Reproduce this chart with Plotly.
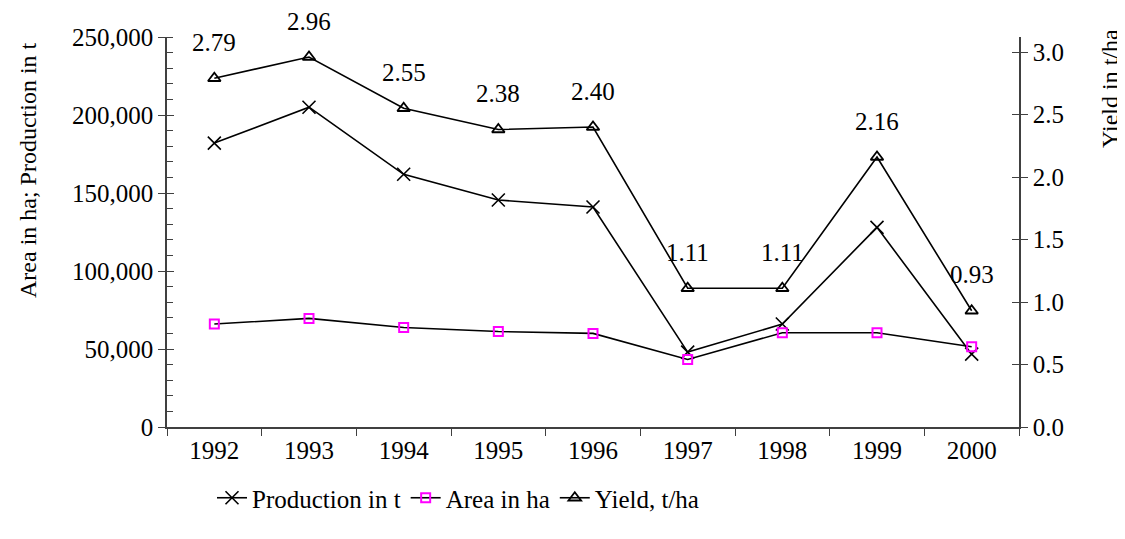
import plotly.graph_objects as go

years = ["1992", "1993", "1994", "1995", "1996", "1997", "1998", "1999", "2000"]
production_t = [182000, 205000, 162000, 145500, 141000, 48000, 66000, 128000, 46700]
area_ha = [66000, 69600, 63800, 61200, 60000, 43300, 60400, 60400, 51400]
yield_t_ha = [2.79, 2.96, 2.55, 2.38, 2.40, 1.11, 1.11, 2.16, 0.93]
yield_labels = ["2.79", "2.96", "2.55", "2.38", "2.40", "1.11", "1.11", "2.16", "0.93"]

FONT = "Liberation Serif"
AXC = "#404040"
YMAX2 = 3.12
FS = 25

# page offset of 8px (body margin)
OFF = 8
W, H = 1125 - OFF, 539 - OFF
L, T = 167 - OFF, 37 - OFF
R = W - (1019 - OFF)
B = H - (427 - OFF)
pw, ph = W - L - R, H - T - B

def px_to_paper(xp, yp):
    return (xp - OFF - L) / pw, (H - B - (yp - OFF)) / ph

fig = go.Figure()
fig.add_trace(go.Scatter(
    x=years, y=production_t, name="Production in t", mode="lines+markers",
    line=dict(color="black", width=1.6),
    marker=dict(symbol="x-thin-open", size=13, line=dict(color="black", width=1.6)),
    yaxis="y"))
fig.add_trace(go.Scatter(
    x=years, y=area_ha, name="Area in ha", mode="lines+markers",
    line=dict(color="black", width=1.6),
    marker=dict(symbol="square-open", size=9, color="#ff00ff", line=dict(color="#ff00ff", width=2)),
    yaxis="y"))
fig.add_trace(go.Scatter(
    x=years, y=yield_t_ha, name="Yield, t/ha", mode="lines+markers",
    line=dict(color="black", width=1.6),
    marker=dict(symbol="triangle-up-open", size=11, color="black", line=dict(color="black", width=1.8)),
    yaxis="y2"))

annotations = []
for i, (v, lab) in enumerate(zip(yield_t_ha, yield_labels)):
    annotations.append(dict(x=i, y=v, xref="x", yref="y2", text=lab, showarrow=False,
                            xanchor="center", yanchor="middle",
                            yshift=36, font=dict(family=FONT, size=FS, color="black")))
lx, ly = px_to_paper(28, 170)
annotations.append(dict(x=lx, y=ly, xref="paper", yref="paper", text="Area in ha; Production in t",
                        showarrow=False, textangle=-90, xanchor="center", yanchor="middle",
                        font=dict(family=FONT, size=24, color="black")))
rx, ry = px_to_paper(1110, 89)
annotations.append(dict(x=rx, y=ry, xref="paper", yref="paper", text="Yield in t/ha",
                        showarrow=False, textangle=-90, xanchor="center", yanchor="middle",
                        font=dict(family=FONT, size=24, color="black")))

legx, legy = px_to_paper(212, 498)

fig.update_layout(
    width=W, height=H,
    margin=dict(l=L, r=R, t=T, b=B),
    paper_bgcolor="white", plot_bgcolor="white",
    font=dict(family=FONT, size=FS, color="black"),
    showlegend=True,
    legend=dict(orientation="h", x=legx, xanchor="left", y=legy, yanchor="middle",
                font=dict(family=FONT, size=FS), itemwidth=30, tracegroupgap=0,
                bgcolor="rgba(0,0,0,0)"),
    xaxis=dict(type="category", tickson="boundaries", ticks="outside", ticklen=7,
               tickcolor=AXC, showline=True, linecolor=AXC, linewidth=1.5,
               showgrid=False, zeroline=False, range=[-0.5, 8.5],
               tickfont=dict(family=FONT, size=FS)),
    yaxis=dict(range=[0, 250000], dtick=50000, tickformat=",d", ticks="outside", ticklen=7,
               tickcolor=AXC, showline=True, linecolor=AXC, linewidth=1.5,
               showgrid=False, zeroline=False, tickfont=dict(family=FONT, size=FS),
               minor=dict(dtick=10000, ticks="inside", ticklen=6, tickcolor=AXC, showgrid=False)),
    yaxis3=dict(range=[0, 250000], dtick=50000, overlaying="y", side="left", anchor="x",
                ticks="inside", ticklen=7, tickcolor=AXC, showticklabels=False,
                showline=False, showgrid=False, zeroline=False),
    yaxis2=dict(range=[0, YMAX2], tickvals=[0, 0.5, 1, 1.5, 2, 2.5, 3],
                ticktext=["0.0", "0.5", "1.0", "1.5", "2.0", "2.5", "3.0"],
                overlaying="y", side="right", anchor="x", ticks="outside", ticklen=7,
                tickcolor=AXC, showline=True, linecolor=AXC, linewidth=1.5,
                showgrid=False, zeroline=False, tickfont=dict(family=FONT, size=FS)),
    yaxis4=dict(range=[0, YMAX2], tickvals=[0, 0.5, 1, 1.5, 2, 2.5, 3],
                overlaying="y", side="right", anchor="x", ticks="inside", ticklen=7,
                tickcolor=AXC, showticklabels=False, showline=False, showgrid=False,
                zeroline=False),
    annotations=annotations,
)
fig.add_trace(go.Scatter(x=[years[0]], y=[0], yaxis="y3", mode="markers",
                         marker=dict(opacity=0), showlegend=False, hoverinfo="skip"))
fig.add_trace(go.Scatter(x=[years[0]], y=[0], yaxis="y4", mode="markers",
                         marker=dict(opacity=0), showlegend=False, hoverinfo="skip"))

fig.write_html("out.html")
